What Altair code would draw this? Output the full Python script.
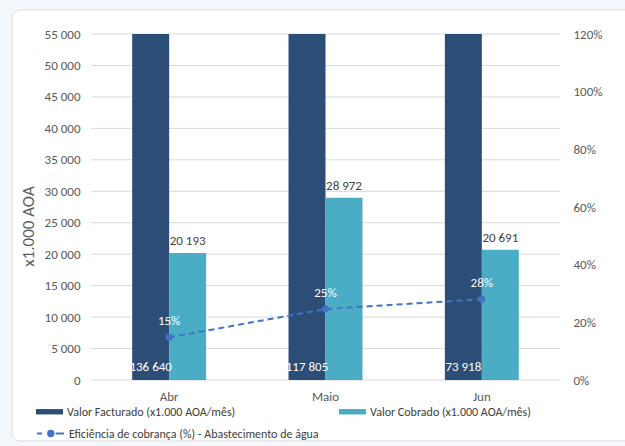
import altair as alt
import pandas as pd

# Monthly billing vs. collection (x1.000 AOA) and collection efficiency
meses = ["Abr", "Maio", "Jun"]
valor_facturado = [136640, 117805, 73918]
valor_cobrado = [20193, 28972, 20691]
eficiencia = [0.148, 0.246, 0.280]

serie_fact = "Valor Facturado (x1.000 AOA/mês)"
serie_cobr = "Valor Cobrado (x1.000 AOA/mês)"
serie_efic = "Eficiência de cobrança (%) - Abastecimento de água"
series_barras = [serie_fact, serie_cobr]

cor_fact = "#2C4D75"
cor_cobr = "#4BACC6"
cor_linha = "#4472C4"
cor_texto = "#595959"
cor_grelha = "#d9d9d9"
fonte = "Carlito, Lato, sans-serif"

y_max = 55000
y_ticks = list(range(0, y_max + 1, 5000))
pct_ticks = [0, 0.2, 0.4, 0.6, 0.8, 1.0, 1.2]


def milhares(v):
    return f"{v:,}".replace(",", " ")


barras = pd.DataFrame({
    "mes": meses * 2,
    "serie": [serie_fact] * 3 + [serie_cobr] * 3,
    "valor": valor_facturado + valor_cobrado,
})
barras["rotulo"] = barras["valor"].map(milhares)

linha = pd.DataFrame({"mes": meses, "serie": serie_efic, "eficiencia": eficiencia})
grelha = pd.DataFrame({"valor": y_ticks})

W, H = 469, 346
PAD_L, PAD_T = 91, 34

x_axis = alt.Axis(labelAngle=0, ticks=False, domain=False, zindex=1,
                  labelPadding=10, labelFontSize=13, labelColor=cor_texto, labelFont=fonte)
x_enc = alt.X(
    "mes:N", sort=meses, title=None,
    scale=alt.Scale(paddingInner=0.527, paddingOuter=0.2635), axis=x_axis,
)
xoff_enc = alt.XOffset("serie:N", sort=series_barras,
                       scale=alt.Scale(paddingInner=0, paddingOuter=0))

y_scale = alt.Scale(domain=[0, y_max], nice=False)
y_axis = alt.Axis(
    values=y_ticks, title="x1.000 AOA", titleFontSize=17, titleFontWeight="normal",
    titleColor=cor_texto, titleFont=fonte, titleX=-63, titleY=192, titleAngle=270,
    titleAlign="center", titleBaseline="middle", zindex=1,
    labelExpr="replace(format(datum.value, ',d'), ',', ' ')", labelOverlap=False,
    labelFontSize=13, labelColor=cor_texto, labelFont=fonte, labelPadding=11,
    ticks=False, domain=False, grid=False,
)
y_bar = alt.Y("valor:Q", scale=y_scale, axis=y_axis)

legenda_barras = alt.Legend(
    orient="none", legendX=-55, legendY=364, direction="horizontal", columns=2,
    columnPadding=103, title=None, symbolType="M-1,-0.2H1V0.2H-1Z", symbolSize=729,
    symbolStrokeWidth=0, symbolOpacity=1, labelOffset=4, labelFontSize=12,
    labelColor="#404040", labelFont=fonte, labelLimit=400,
)

# white card behind the chart
cartao = alt.Chart(pd.DataFrame({"k": [0]})).mark_rect(
    fill="white", stroke="#dcdcdc", strokeWidth=1, cornerRadius=8
).encode(
    x=alt.value(12 - PAD_L), x2=alt.value(640 - PAD_L),
    y=alt.value(10 - PAD_T), y2=alt.value(441 - PAD_T),
)

# horizontal gridlines at the left-axis ticks
linhas_grelha = alt.Chart(grelha).mark_rule(color=cor_grelha, strokeWidth=1).encode(
    y=y_bar,
)

base = alt.Chart(barras)

colunas = base.mark_bar(clip=True).encode(
    x=x_enc, xOffset=xoff_enc, y=y_bar,
    color=alt.Color("serie:N", sort=series_barras,
                    scale=alt.Scale(domain=series_barras, range=[cor_fact, cor_cobr]),
                    legend=legenda_barras),
)

rotulo_fact = base.transform_filter(alt.datum.serie == serie_fact).mark_text(
    color="white", fontSize=13, font=fonte, baseline="middle", dy=-13
).encode(
    x=x_enc, xOffset=xoff_enc,
    y=alt.Y(datum=0, scale=y_scale, axis=y_axis), text="rotulo:N",
)

rotulo_cobr = base.transform_filter(alt.datum.serie == serie_cobr).mark_text(
    color="#404040", fontSize=13, font=fonte, baseline="bottom", dy=-5
).encode(
    x=x_enc, xOffset=xoff_enc, y=y_bar, text="rotulo:N",
)

camada_barras = alt.layer(linhas_grelha, colunas, rotulo_fact, rotulo_cobr)

y_pct_scale = alt.Scale(domain=[0, 1.2], nice=False)
y_pct_axis = alt.Axis(orient="right", values=pct_ticks, format=".0%", title=None, grid=False,
                      ticks=False, domain=False, labelFontSize=13, labelColor=cor_texto,
                      labelFont=fonte, labelPadding=13, zindex=1, labelOverlap=False)
y_pct = alt.Y("eficiencia:Q", scale=y_pct_scale, axis=y_pct_axis)

legenda_linha = alt.Legend(
    orient="none", legendX=-55, legendY=385, title=None,
    symbolType="M-1,0H-0.62M0.38,0H1M-0.18,0A0.2,0.2,0,1,1,0.22,0A0.2,0.2,0,1,1,-0.18,0Z",
    symbolSize=729, symbolStrokeWidth=2, symbolFillColor=cor_linha,
    labelOffset=4, labelFontSize=12, labelColor="#404040", labelFont=fonte, labelLimit=400,
)

base_linha = alt.Chart(linha)
curva = base_linha.mark_line(
    strokeDash=[6, 4], strokeWidth=2,
    point=alt.OverlayMarkDef(filled=True, size=50, color=cor_linha),
).encode(
    x=x_enc, y=y_pct,
    color=alt.Color("serie:N", scale=alt.Scale(domain=[serie_efic], range=[cor_linha]),
                    legend=legenda_linha),
)
rotulo_pct = base_linha.mark_text(
    color="white", fontSize=13, font=fonte, baseline="middle", dy=-16
).encode(
    x=x_enc, y=y_pct,
    text=alt.Text("eficiencia:Q", format=".0%"),
)
camada_linha = alt.layer(curva, rotulo_pct)

chart = alt.layer(cartao, camada_barras, camada_linha).resolve_scale(
    y="independent", color="independent"
).properties(
    width=W, height=H,
    padding={"left": PAD_L, "top": PAD_T, "right": 625 - PAD_L - W, "bottom": 446 - PAD_T - H},
    autosize=alt.AutoSizeParams(type="none"),
    background="#f4f8fc",
).configure_view(stroke=None)

chart.save("out.html", embed_options={"renderer": "svg", "actions": False})
